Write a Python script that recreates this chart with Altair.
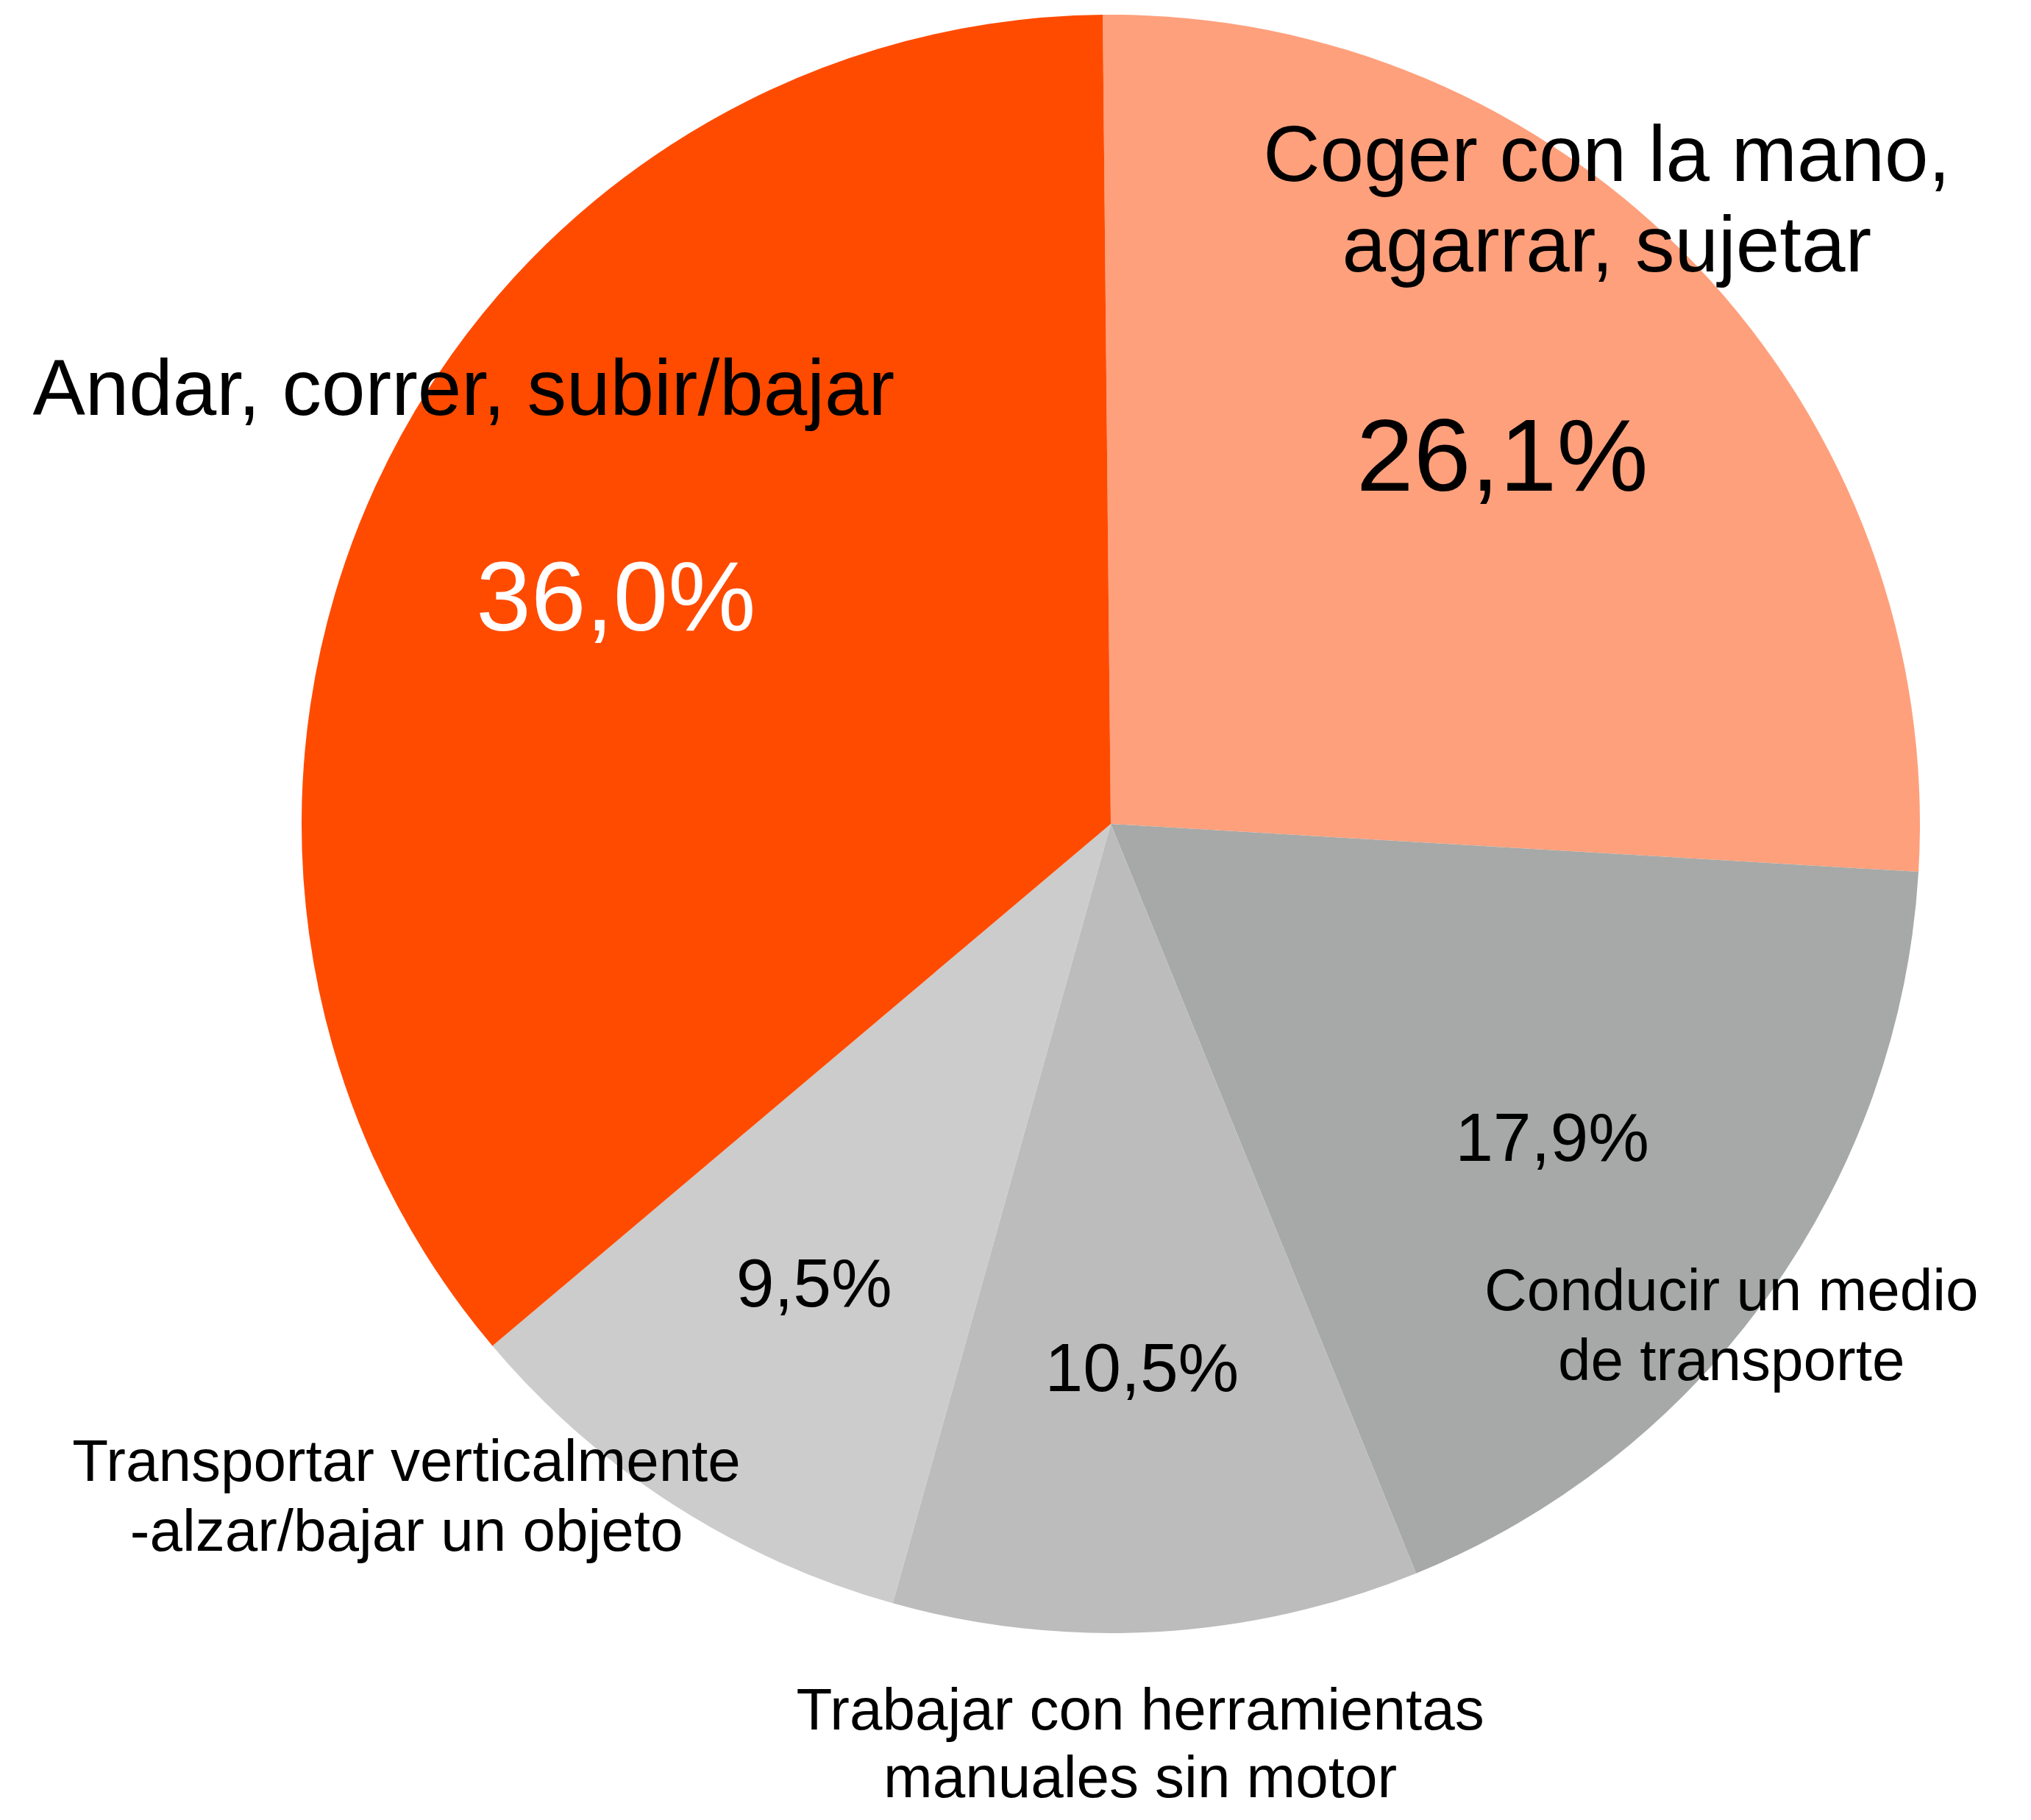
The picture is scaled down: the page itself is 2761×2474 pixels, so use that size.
import math
import altair as alt
import pandas as pd

# ---- data ----
categories = [
    "Coger con la mano,\nagarrar, sujetar",
    "Conducir un medio\nde transporte",
    "Trabajar con herramientas\nmanuales sin motor",
    "Transportar verticalmente\n-alzar/bajar un objeto",
    "Andar, correr, subir/bajar",
]
values = [26.1, 17.9, 10.5, 9.5, 36.0]
colors = ["#FFA07C", "#A6A9A7", "#BBBCBB", "#CBCCCB", "#FF4B00"]

pct_labels = [f"{v:.1f}".replace(".", ",") + "%" for v in values]
df = pd.DataFrame({"idx": list(range(len(values))), "cat": categories,
                   "value": values, "pct": pct_labels})

# ---- layout / style ----
W, H = 2745, 2458
CX, CY = 1502, 1112
R = 1100
START = math.radians(-0.57)
FONT = "Liberation Sans"

theta = alt.Theta("value:Q", stack=True,
                  scale=alt.Scale(domain=[0, 100], range=[START, START + 2 * math.pi]))
order = alt.Order("idx:Q", sort="ascending")

arcs = alt.Chart(df).mark_arc(outerRadius=R).encode(
    theta=theta,
    order=order,
    color=alt.Color("cat:N", scale=alt.Scale(domain=categories, range=colors), legend=None),
    x=alt.value(CX), y=alt.value(CY),
)

# percentage labels: (fontSize, color, radius, dx, dy)
pct_style = [
    (140, "#000000", 735, 0, 12),
    (93, "#000000", 738, 0, 0),
    (93, "#000000", 744, 0, 0),
    (93, "#000000", 746, 0, 0),
    (134, "#FFFFFF", 740, 0, 5),
]
# category labels: (fontSize, lineHeight, radius, dx, dy)
cat_style = [
    (107, 123, 1080, -108, -161),
    (80, 95, 1087, -40, 4),
    (80, 92, 1281, -33, -72),
    (80, 95, 1325, -241, -246),
    (107, 123, 1058, 82, -147),
]

layers = [arcs]
for i, (fs, col, rad, dx, dy) in enumerate(pct_style):
    layers.append(
        alt.Chart(df).mark_text(font=FONT, fontSize=fs, color=col, radius=rad,
                                dx=dx, dy=dy, align="center", baseline="middle").encode(
            theta=theta, order=order, detail="cat:N",
            x=alt.value(CX), y=alt.value(CY),
            text=alt.condition(f"datum.idx == {i}", alt.Text("pct:N"), alt.value("")),
        )
    )
for i, (fs, lh, rad, dx, dy) in enumerate(cat_style):
    layers.append(
        alt.Chart(df).mark_text(font=FONT, fontSize=fs, color="#000000", radius=rad,
                                lineHeight=lh, lineBreak="\n",
                                dx=dx, dy=dy, align="center", baseline="middle").encode(
            theta=theta, order=order, detail="cat:N",
            x=alt.value(CX), y=alt.value(CY),
            text=alt.condition(f"datum.idx == {i}", alt.Text("cat:N"), alt.value("")),
        )
    )

chart = alt.layer(*layers).properties(
    width=W, height=H, autosize=alt.AutoSizeParams(type="none"), padding=0,
).configure_view(stroke=None)

chart.save("out.html", embed_options={"renderer": "svg", "actions": False})
